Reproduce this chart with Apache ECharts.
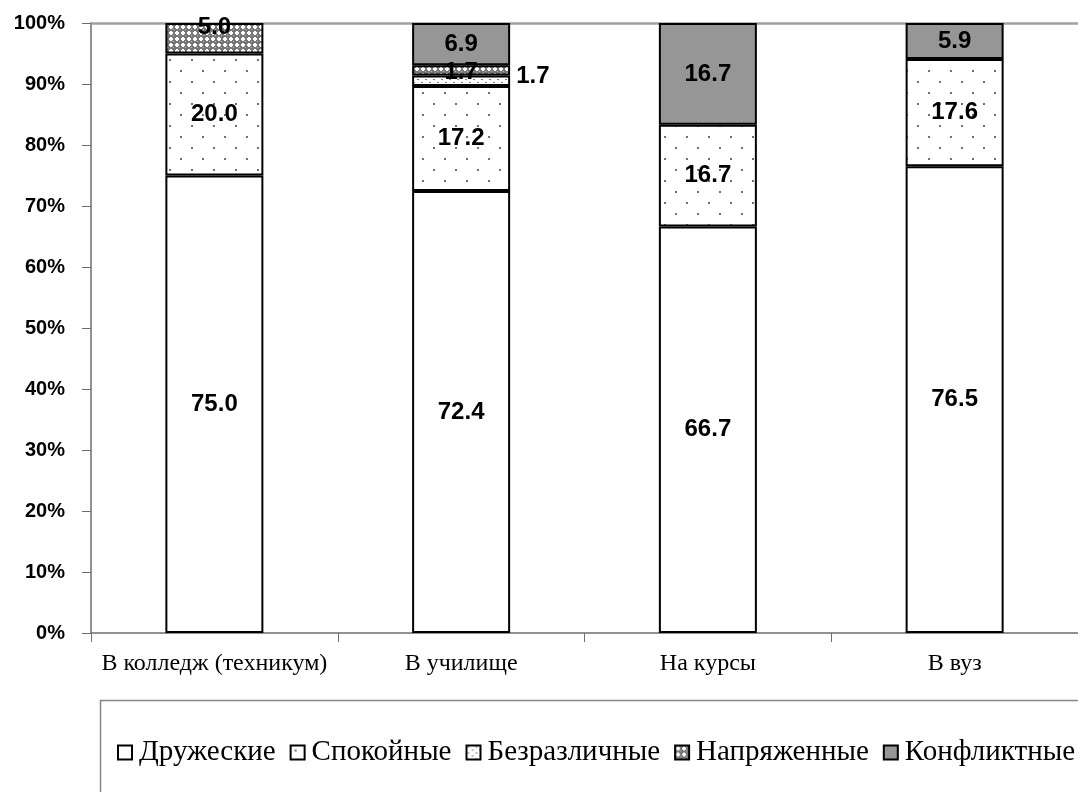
<!DOCTYPE html>
<html><head><meta charset="utf-8">
<script src="https://cdn.jsdelivr.net/npm/echarts@6/dist/echarts.min.js"></script>
<style>html,body{margin:0;padding:0;background:#fff}#c{width:1078px;height:792px}</style>
</head><body><div id="c"></div>
<script>
const categories = ['В колледж (техникум)', 'В училище', 'На курсы', 'В вуз'];
const seriesNames = ['Дружеские', 'Спокойные', 'Безразличные', 'Напряженные', 'Конфликтные'];
const friendly = [75.0, 72.4, 66.7, 76.5];
const calm = [20.0, 17.2, 16.7, 17.6];
const indifferent = [0, 1.7, 0, 0];
const tense = [5.0, 1.7, 0, 0];
const conflict = [0, 6.9, 16.7, 5.9];
const yTicks = [0, 10, 20, 30, 40, 50, 60, 70, 80, 90, 100];

function makeTile(w, h, draw) {
  const c = document.createElement('canvas'); c.width = w; c.height = h;
  const ctx = c.getContext('2d'); draw(ctx); return c;
}
const sparseDots = makeTile(22, 22, ctx => {
  ctx.fillStyle = '#fff'; ctx.fillRect(0, 0, 22, 22);
  ctx.fillStyle = '#707070';
  ctx.fillRect(4, 4, 2, 2); ctx.fillRect(15, 15, 2, 2);
});
const denseDots = makeTile(8, 6, ctx => {
  ctx.fillStyle = '#fff'; ctx.fillRect(0, 0, 8, 6);
  ctx.fillStyle = '#7a7a7a';
  ctx.fillRect(1, 1, 2, 1); ctx.fillRect(5, 4, 2, 1);
});
const cross = makeTile(6, 6, ctx => {
  ctx.fillStyle = '#777'; ctx.fillRect(0, 0, 6, 6);
  ctx.fillStyle = '#fff';
  ctx.fillRect(2, 1, 2, 4); ctx.fillRect(1, 2, 4, 2);
  ctx.fillStyle = '#bbb';
  ctx.fillRect(5, 5, 1, 1);
});

const raw = [friendly, calm, indifferent, tense, conflict];
const totals = categories.map((_, i) => raw.reduce((s, a) => s + a[i], 0));
const fills = [
  '#ffffff',
  { image: sparseDots, repeat: 'repeat' },
  { image: denseDots, repeat: 'repeat' },
  { image: cross, repeat: 'repeat' },
  '#969696'
];

const labelFont = { fontFamily: 'Liberation Sans', fontWeight: 'bold', fontSize: 24, color: '#000' };

const series = raw.map((arr, si) => ({
  name: seriesNames[si],
  type: 'bar',
  stack: 'all',
  barWidth: 98,
  itemStyle: { color: fills[si], borderColor: '#000', borderWidth: 2 },
  label: Object.assign({ show: true, position: 'inside', formatter: p => p.data.raw.toFixed(1) }, labelFont),
  data: arr.map((v, i) => {
    if (v === 0) return { value: '-', raw: 0, label: { show: false } };
    const d = { value: v / totals[i] * 100, raw: v };
    if (si === 2) d.label = { show: true, position: 'right', distance: 6, offset: [0, -4] };
    if (si === 3 && i === 0) d.label = { show: true, offset: [0, -11] };
    if (si === 3 && i === 1) d.label = { show: true, offset: [0, 2] };
    return d;
  })
}));

const chart = echarts.init(document.getElementById('c'));
chart.setOption({
  animation: false,
  backgroundColor: '#fff',
  grid: { left: 91, right: -7, top: 23, bottom: 159, containLabel: false },
  legend: {
    data: seriesNames,
    left: 112, top: 733, width: 1400,
    itemWidth: 14, itemHeight: 14, itemGap: 14,
    icon: 'rect',
    itemStyle: { borderColor: '#000', borderWidth: 2 },
    textStyle: { fontFamily: 'Liberation Serif', fontSize: 29, color: '#000', padding: [0, 0, 0, 2] }
  },
  graphic: [{
    type: 'rect', shape: { x: 100.5, y: 700.5, width: 1000, height: 120 },
    style: { fill: 'none', stroke: '#868686', lineWidth: 1.5 }, z: -1
  }],
  xAxis: [{
    type: 'category', data: categories,
    axisLine: { lineStyle: { color: '#6e6e6e', width: 1.5 } },
    axisTick: { show: true, length: 9, alignWithLabel: false, lineStyle: { color: '#6e6e6e' } },
    axisLabel: { interval: 0, fontFamily: 'Liberation Serif', fontSize: 24, color: '#000', margin: 19 }
  }, {
    type: 'category', data: categories, position: 'top',
    axisLine: { lineStyle: { color: '#a0a0a0', width: 2.5 } },
    axisTick: { show: false }, axisLabel: { show: false }
  }],
  yAxis: {
    type: 'value', min: yTicks[0], max: yTicks[yTicks.length - 1], interval: 10,
    axisLine: { show: true, lineStyle: { color: '#6e6e6e', width: 1.5 } },
    axisTick: { show: true, length: 9, lineStyle: { color: '#6e6e6e' } },
    splitLine: { show: false },
    axisLabel: { formatter: '{value}%', fontFamily: 'Liberation Sans', fontWeight: 'bold', fontSize: 20, color: '#000', margin: 26 }
  },
  series: series
});
</script></body></html>
